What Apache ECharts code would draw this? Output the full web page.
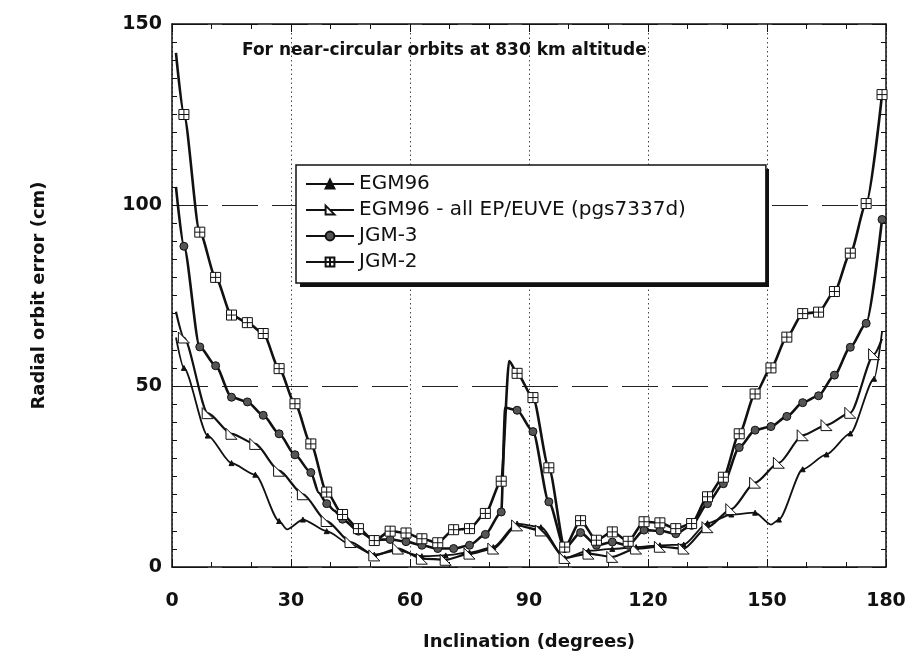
<!DOCTYPE html>
<html><head><meta charset="utf-8">
<script src="https://cdn.jsdelivr.net/npm/echarts@6/dist/echarts.min.js"></script>
<style>html,body{margin:0;padding:0;background:#fff}#c{width:918px;height:661px}</style>
</head><body><div id="c"></div>
<script>
// ---- data ----
const seriesNames = ['EGM96', 'EGM96 - all EP/EUVE (pgs7337d)', 'JGM-3', 'JGM-2'];

const egm96Inc = [1, 3, 9, 15, 21, 27, 29, 33, 39, 45, 51, 57, 63, 69, 75, 81, 87, 93, 99, 105, 111, 117, 123, 129, 135, 141, 147, 151, 153, 159, 165, 171, 177, 179];
const egm96Val = [63.4, 55, 36.3, 28.7, 25.5, 12.7, 10.4, 13.1, 9.9, 6.2, 3.4, 4.5, 3.0, 3.2, 4.0, 5.5, 12, 11, 2.5, 4.5, 5, 5.5, 6, 6.2, 12.1, 14.5, 15, 11.7, 13.1, 27, 31.1, 36.9, 52, 65];

const egmAllInc = [1, 3, 9, 15, 21, 27, 33, 39, 45, 51, 57, 63, 69, 75, 81, 87, 93, 99, 105, 111, 117, 123, 129, 135, 141, 147, 153, 159, 165, 171, 177, 179];
const egmAllVal = [70.5, 63.4, 42.5, 36.8, 34, 26.6, 20.1, 12.7, 6.9, 3.2, 5.1, 2.3, 2.0, 3.7, 5.1, 11.5, 10.1, 2.5, 3.7, 2.8, 5.1, 5.6, 5.1, 11.0, 16, 23.3, 28.8, 36.4, 39.2, 42.6, 58.8, 63];

const jgm3Inc = [1, 3, 7, 11, 15, 19, 23, 27, 31, 35, 37, 39, 41, 43, 47, 51, 55, 59, 63, 67, 71, 75, 79, 83, 84, 87, 91, 95, 99, 103, 107, 111, 115, 119, 123, 127, 131, 135, 139, 143, 147, 151, 155, 159, 163, 167, 171, 175, 179];
const jgm3Val = [105, 88.6, 60.8, 55.6, 46.9, 45.6, 41.9, 36.8, 31, 26.1, 20.5, 17.5, 15.5, 13.2, 9.9, 7.5, 7.6, 7.0, 6.0, 5.1, 5.1, 6.0, 9.0, 15.2, 44, 43.3, 37.4, 18, 5.1, 9.5, 6, 6.9, 6, 10.2, 10, 9.2, 11.5, 17.5, 23, 33, 37.8, 38.8, 41.6, 45.4, 47.3, 53, 60.7, 67.3, 96];

const jgm2Inc = [1, 3, 7, 11, 15, 19, 23, 27, 31, 35, 39, 43, 47, 51, 55, 59, 63, 67, 71, 75, 79, 83, 85, 87, 91, 95, 99, 103, 107, 111, 115, 119, 123, 127, 131, 135, 139, 143, 147, 151, 155, 159, 163, 167, 171, 175, 179];
const jgm2Val = [142, 125, 92.5, 80, 69.6, 67.5, 64.5, 54.8, 45.1, 34, 20.7, 14.5, 10.6, 7.3, 9.9, 9.4, 7.8, 6.7, 10.3, 10.6, 14.8, 23.7, 56.9, 53.5, 46.8, 27.4, 5.5, 12.8, 7.4, 9.7, 7.1, 12.5, 12.2, 10.6, 12, 19.4, 24.8, 36.8, 47.8, 55, 63.5, 70, 70.4, 76.1, 86.7, 100.4, 130.5];

const xTickLabels = [0, 30, 60, 90, 120, 150, 180];
const yTickLabels = [0, 50, 100, 150];
const noteText = 'For near-circular orbits at 830 km altitude';
const xName = 'Inclination (degrees)';
const yName = 'Radial orbit error (cm)';

// ---- build ----
function build(incs, vals, first, step) {
  return incs.map((x, i) => {
    const marked = (x - first) % step === 0 && x >= first;
    return marked ? [x, vals[i]] : { value: [x, vals[i]], symbol: 'none' };
  });
}

const symJgm2 = 'path://M0,0H10V10H0Z M5,0V10 M0,5H10';
const symEgmAll = 'path://M0,0L10,10L0,10Z';
const symEgm = 'path://M5,0L9,10H1Z';

const axisLabelFont = { fontFamily: 'DejaVu Sans', fontWeight: 'bold', fontSize: 19, color: '#111' };

function lineSeries(name, incs, vals, step, sym, size, width, fill, z) {
  return {
    name, type: 'line', smooth: 0.25, smoothMonotone: 'x',
    data: build(incs, vals, 3, step),
    symbol: sym, symbolSize: size, showAllSymbol: true,
    lineStyle: { color: '#111', width },
    itemStyle: { color: fill, borderColor: '#111', borderWidth: 1 }, z
  };
}

const chart = echarts.init(document.getElementById('c'), null, { renderer: 'canvas' });
chart.setOption({
  backgroundColor: '#fff',
  animation: false,
  grid: { left: 172, right: 32, top: 24, bottom: 94, containLabel: false },
  title: {
    text: noteText, left: 237, top: 37,
    textStyle: { fontFamily: 'DejaVu Sans', fontSize: 17, fontWeight: 'bold', color: '#111' }
  },
  graphic: [{
    type: 'rect', left: 300, top: 169, z: 9,
    shape: { width: 469, height: 118 },
    style: { fill: '#111' }
  }],
  legend: {
    orient: 'vertical', left: 296, top: 165, z: 10,
    data: seriesNames,
    itemWidth: 48, itemHeight: 11, itemGap: 6,
    padding: [9, 80, 11, 9],
    backgroundColor: '#fff', borderColor: '#111', borderWidth: 1.5,
    textStyle: { fontFamily: 'DejaVu Sans', fontSize: 20, color: '#111' }
  },
  xAxis: [{
    type: 'value', min: 0, max: 180, interval: 30, position: 'bottom',
    axisLine: { show: true, onZero: false, lineStyle: { color: '#111', width: 1.5 } },
    axisTick: { show: true, inside: true, length: 8, lineStyle: { color: '#111' } },
    minorTick: { show: true, splitNumber: 3, length: 5, lineStyle: { color: '#111' } },
    splitLine: { show: true, lineStyle: { color: '#444', type: [1.5, 3], width: 1 } },
    axisLabel: Object.assign({ margin: 25, customValues: xTickLabels }, axisLabelFont),
    name: xName, nameLocation: 'middle', nameGap: 66,
    nameTextStyle: { fontFamily: 'DejaVu Sans', fontWeight: 'bold', fontSize: 18, color: '#111' }
  }, {
    type: 'value', min: 0, max: 180, interval: 30, position: 'top',
    axisLine: { show: true, onZero: false, lineStyle: { color: '#111', width: 1.5 } },
    axisTick: { show: true, inside: true, length: 8, lineStyle: { color: '#111' } },
    minorTick: { show: true, splitNumber: 3, length: 5, lineStyle: { color: '#111' } },
    splitLine: { show: false }, axisLabel: { show: false }
  }],
  yAxis: [{
    type: 'value', min: 0, max: 150, interval: 50, position: 'left',
    axisLine: { show: true, onZero: false, lineStyle: { color: '#111', width: 1.5 } },
    axisTick: { show: true, inside: true, length: 8, lineStyle: { color: '#111' } },
    minorTick: { show: true, splitNumber: 10, length: 5, lineStyle: { color: '#111' } },
    splitLine: { show: true, lineStyle: { color: '#222', type: [36, 14], width: 1 } },
    axisLabel: Object.assign({ margin: 10, customValues: yTickLabels }, axisLabelFont),
    name: yName, nameLocation: 'middle', nameGap: 124, nameRotate: 90,
    nameTextStyle: { fontFamily: 'DejaVu Sans', fontWeight: 'bold', fontSize: 18, color: '#111' }
  }, {
    type: 'value', min: 0, max: 150, interval: 50, position: 'right',
    axisLine: { show: true, onZero: false, lineStyle: { color: '#111', width: 1.5 } },
    axisTick: { show: true, inside: true, length: 8, lineStyle: { color: '#111' } },
    minorTick: { show: true, splitNumber: 10, length: 5, lineStyle: { color: '#111' } },
    splitLine: { show: false }, axisLabel: { show: false }
  }],
  series: [
    lineSeries(seriesNames[0], egm96Inc, egm96Val, 6, symEgm, 5, 1.8, '#111', 2),
    lineSeries(seriesNames[1], egmAllInc, egmAllVal, 6, symEgmAll, 11, 2.2, '#fff', 3),
    lineSeries(seriesNames[2], jgm3Inc, jgm3Val, 4, 'circle', 8, 2.6, '#555', 4),
    lineSeries(seriesNames[3], jgm2Inc, jgm2Val, 4, symJgm2, 10, 2.6, '#fff', 5)
  ]
});
</script></body></html>
